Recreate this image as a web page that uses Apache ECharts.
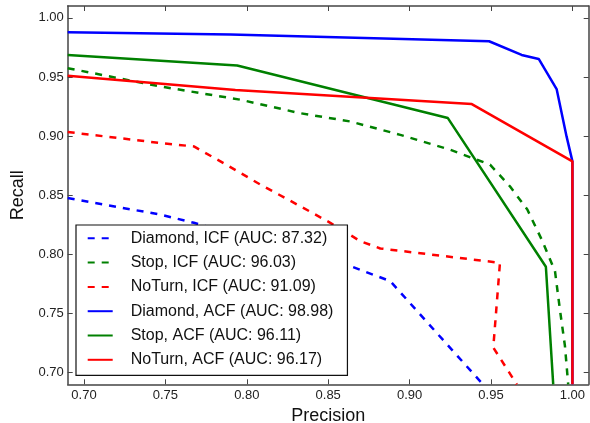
<!DOCTYPE html>
<html>
<head>
<meta charset="utf-8">
<script src="https://cdn.jsdelivr.net/npm/echarts@6/dist/echarts.min.js"></script>
<style>
html,body{margin:0;padding:0;background:#fff;}
#chart{width:590px;height:423px;}
</style>
</head>
<body>
<div id="chart"></div>
<script>
const seriesNames = [
  'Diamond, ICF (AUC: 87.32)',
  'Stop, ICF (AUC: 96.03)',
  'NoTurn, ICF (AUC: 91.09)',
  'Diamond, ACF (AUC: 98.98)',
  'Stop, ACF (AUC: 96.11)',
  'NoTurn, ACF (AUC: 96.17)'
];
const xTicks = [0.70, 0.75, 0.80, 0.85, 0.90, 0.95, 1.00];
const yTicks = [0.70, 0.75, 0.80, 0.85, 0.90, 0.95, 1.00];

const diamondIcfPrecision = [0.69, 0.7471, 0.7675, 0.8636, 0.8881, 0.945];
const diamondIcfRecall    = [0.8475, 0.8335, 0.8266, 0.790, 0.7773, 0.69];

const stopIcfPrecision = [0.69, 0.7471, 0.7962, 0.8325, 0.8636, 0.8943, 0.9249, 0.9494, 0.9616, 0.9723, 0.9811, 0.9893, 0.9923, 0.9954, 0.9974];
const stopIcfRecall    = [0.9574, 0.9419, 0.9307, 0.9194, 0.9123, 0.901, 0.8884, 0.8758, 0.8575, 0.8378, 0.8125, 0.7857, 0.7534, 0.7225, 0.69];

const noturnIcfPrecision = [0.69, 0.7471, 0.7675, 0.7838, 0.8084, 0.8329, 0.8513, 0.8697, 0.882, 0.9555, 0.9514, 0.9658];
const noturnIcfRecall    = [0.9034, 0.8941, 0.8912, 0.8786, 0.8589, 0.8406, 0.8266, 0.8111, 0.8049, 0.7928, 0.7211, 0.69];

const diamondAcfPrecision = [0.69, 0.79, 0.9488, 0.9688, 0.9793, 0.9903, 0.9964, 1.0, 1.0];
const diamondAcfRecall    = [0.9878, 0.9858, 0.9802, 0.9686, 0.9652, 0.9397, 0.8997, 0.8786, 0.69];

const stopAcfPrecision = [0.69, 0.7941, 0.9235, 0.9837, 0.9882];
const stopAcfRecall    = [0.9686, 0.9596, 0.9152, 0.7894, 0.69];

const noturnAcfPrecision = [0.69, 0.793, 0.9382, 1.0, 1.0];
const noturnAcfRecall    = [0.9509, 0.939, 0.927, 0.8786, 0.69];

const colors = ['#0000ff', '#008000', '#ff0000', '#0000ff', '#008000', '#ff0000'];
const lineTypes = ['dashed', 'dashed', 'dashed', 'solid', 'solid', 'solid'];
const precisions = [diamondIcfPrecision, stopIcfPrecision, noturnIcfPrecision, diamondAcfPrecision, stopAcfPrecision, noturnAcfPrecision];
const recalls = [diamondIcfRecall, stopIcfRecall, noturnIcfRecall, diamondAcfRecall, stopAcfRecall, noturnAcfRecall];

const zip = (xs, ys) => xs.map((x, i) => [x, ys[i]]);
const FONT = '"Liberation Sans", Arial, Helvetica, sans-serif';
const axisColor = '#444';
const fmt = v => Number(v).toFixed(2);

const series = seriesNames.map((name, i) => ({
  name: name,
  type: 'line',
  data: zip(precisions[i], recalls[i]),
  symbol: 'none',
  symbolSize: 0,
  showSymbol: false,
  clip: true,
  animation: false,
  lineStyle: { color: colors[i], width: 2.5, type: lineTypes[i] === 'dashed' ? [7, 7] : 'solid' },
  itemStyle: { color: colors[i] }
}));

const chart = echarts.init(document.getElementById('chart'), null, { renderer: 'canvas' });
chart.setOption({
  animation: false,
  backgroundColor: '#fff',
  grid: { left: 67.7, top: 6, width: 521, height: 378.3, containLabel: false, outerBoundsMode: 'none' },
  xAxis: [{
    type: 'value', min: 0.69, max: 1.01, position: 'bottom',
    name: 'Precision', nameLocation: 'middle', nameGap: 20,
    nameTextStyle: { fontFamily: FONT, fontSize: 18, color: '#111' },
    axisLine: { show: true, lineStyle: { color: axisColor, width: 1.5 } },
    axisTick: { show: true, inside: true, length: 5, customValues: xTicks, lineStyle: { color: axisColor } },
    axisLabel: { customValues: xTicks, formatter: fmt, margin: 5, fontFamily: FONT, fontSize: 13, color: '#222' },
    splitLine: { show: false }
  }, {
    type: 'value', min: 0.69, max: 1.01, position: 'top',
    axisLine: { show: true, lineStyle: { color: axisColor, width: 1.5 } },
    axisTick: { show: true, inside: true, length: 5, customValues: xTicks, lineStyle: { color: axisColor } },
    axisLabel: { show: false },
    splitLine: { show: false }
  }],
  yAxis: [{
    type: 'value', min: 0.69, max: 1.01, position: 'left',
    name: 'Recall', nameLocation: 'middle', nameGap: 37,
    nameTextStyle: { fontFamily: FONT, fontSize: 18, color: '#111' },
    axisLine: { show: true, lineStyle: { color: axisColor, width: 1.5 } },
    axisTick: { show: true, inside: true, length: 5, customValues: yTicks, lineStyle: { color: axisColor } },
    axisLabel: { customValues: yTicks, formatter: fmt, margin: 4, fontFamily: FONT, fontSize: 13, color: '#222' },
    splitLine: { show: false }
  }, {
    type: 'value', min: 0.69, max: 1.01, position: 'right',
    axisLine: { show: true, lineStyle: { color: axisColor, width: 1.5 } },
    axisTick: { show: true, inside: true, length: 5, customValues: yTicks, lineStyle: { color: axisColor } },
    axisLabel: { show: false },
    splitLine: { show: false }
  }],
  legend: {
    orient: 'vertical',
    left: 76, top: 225,
    padding: [5.3, 14, 7.5, 10.7],
    itemWidth: 25, itemHeight: 14, itemGap: 8.3,
    backgroundColor: '#fff',
    borderColor: '#111', borderWidth: 1.2, borderRadius: 0,
    itemStyle: { opacity: 0, borderWidth: 0 },
    textStyle: { fontFamily: FONT, fontSize: 16, color: '#111', lineHeight: 16, padding: [0, 0, 0, 13] },
    data: seriesNames
  },
  series: series
});
</script>
</body>
</html>
